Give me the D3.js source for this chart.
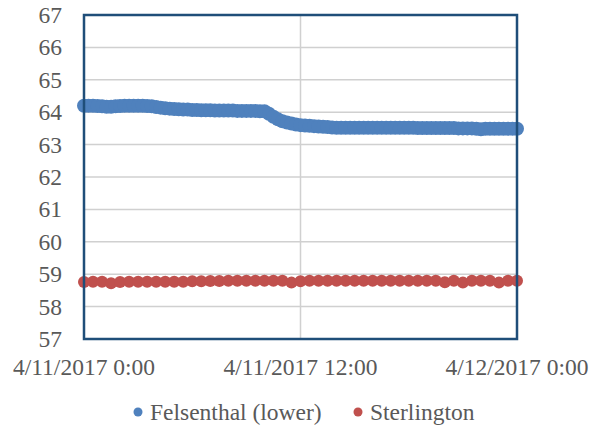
<!DOCTYPE html>
<html>
<head>
<meta charset="utf-8">
<script src="https://cdn.jsdelivr.net/npm/d3@7"></script>
</head>
<body style="margin:0">
<script>
var startTime = new Date(2017, 3, 11, 0, 0);
var endTime = new Date(2017, 3, 12, 0, 0);

// Felsenthal read every 15 minutes, Sterlington every 30 minutes
var felsenthal = [
  64.2, 64.2, 64.2, 64.19, 64.18, 64.17, 64.17, 64.18, 64.19, 64.2, 64.2, 64.2, 64.2,
  64.2, 64.19, 64.18, 64.16, 64.14, 64.12, 64.11, 64.1,
  64.09, 64.08, 64.08, 64.07, 64.07, 64.06, 64.06, 64.06, 64.05, 64.05,
  64.05, 64.05, 64.05, 64.04, 64.04, 64.04, 64.04, 64.04, 64.03, 64.03,
  63.95, 63.86, 63.78, 63.72, 63.68, 63.65, 63.62, 63.6,
  63.59, 63.58, 63.57, 63.56, 63.55, 63.54, 63.53, 63.52,
  63.52, 63.52, 63.52, 63.52, 63.52, 63.52, 63.52, 63.52, 63.52, 63.52,
  63.52, 63.52, 63.52, 63.52, 63.52, 63.52, 63.52, 63.51, 63.51, 63.51,
  63.51, 63.51, 63.51, 63.51, 63.51, 63.51, 63.5, 63.5, 63.5, 63.5,
  63.49, 63.47, 63.49, 63.49, 63.49, 63.49, 63.49, 63.49, 63.49, 63.49];

var sterlington = [58.76, 58.77, 58.77, 58.72, 58.76, 58.77, 58.77, 58.77, 58.77, 58.77,
  58.77, 58.77, 58.78, 58.78, 58.79, 58.79, 58.8, 58.8, 58.8, 58.8,
  58.8, 58.8, 58.8, 58.74, 58.78, 58.8, 58.8, 58.8, 58.8, 58.8,
  58.8, 58.8, 58.8, 58.8, 58.8, 58.8, 58.8, 58.8, 58.8, 58.8,
  58.75, 58.8, 58.74, 58.8, 58.8, 58.8, 58.74, 58.8, 58.8];
var stepMinutes = [15, 30];

var yTicks = [57, 58, 59, 60, 61, 62, 63, 64, 65, 66, 67];
var xTicks = [startTime, new Date(2017, 3, 11, 12, 0), endTime];
var xTickLabels = ["4/11/2017 0:00", "4/11/2017 12:00", "4/12/2017 0:00"];

var seriesNames = ["Felsenthal (lower)", "Sterlington"];
var colors = ["#4f81bd", "#c0504d"];

var width = 593, height = 427;
var margin = {left: 84, right: 76, top: 15, bottom: 88};

var svg = d3.select("body").append("svg")
    .attr("width", width)
    .attr("height", height);

var x = d3.scaleTime()
    .domain([startTime, endTime])
    .range([margin.left, width - margin.right]);

var y = d3.scaleLinear()
    .domain([57, 67])
    .range([height - margin.bottom, margin.top]);

function labelStyle(sel) {
  sel.attr("font-size", 23.5)
    .attr("fill", "#595959")
    .style("font-family", "'Liberation Serif'");
}

// gridlines
svg.append("g")
  .selectAll("line")
  .data(yTicks)
  .enter().append("line")
    .attr("x1", margin.left)
    .attr("x2", width - margin.right)
    .attr("y1", function(d) { return y(d); })
    .attr("y2", function(d) { return y(d); })
    .attr("stroke", "#d0d0d0")
    .attr("stroke-width", 1.5);

svg.append("line")
    .attr("x1", x(xTicks[1]))
    .attr("x2", x(xTicks[1]))
    .attr("y1", y(57))
    .attr("y2", y(67))
    .attr("stroke", "#d0d0d0")
    .attr("stroke-width", 1.5);

// y labels
svg.append("g")
  .selectAll("text")
  .data(yTicks)
  .enter().append("text")
    .attr("x", 62)
    .attr("y", function(d) { return y(d) + 8; })
    .attr("text-anchor", "end")
    .call(labelStyle)
    .text(function(d) { return d; });

// x labels
svg.append("g")
  .selectAll("text")
  .data(xTicks)
  .enter().append("text")
    .attr("x", function(d) { return x(d); })
    .attr("y", 375)
    .attr("text-anchor", "middle")
    .call(labelStyle)
    .text(function(d, i) { return xTickLabels[i]; });

// points
var allSeries = [felsenthal, sterlington];
var radii = [7, 6];
allSeries.forEach(function(values, s) {
  svg.append("g")
    .selectAll("circle")
    .data(values)
    .enter().append("circle")
      .attr("cx", function(d, i) { return x(d3.timeMinute.offset(startTime, i * stepMinutes[s])); })
      .attr("cy", function(d) { return y(d); })
      .attr("r", radii[s])
      .attr("fill", colors[s]);
});

// plot frame
svg.append("rect")
    .attr("x", margin.left)
    .attr("y", margin.top)
    .attr("width", width - margin.left - margin.right)
    .attr("height", height - margin.top - margin.bottom)
    .attr("fill", "none")
    .attr("stroke", "#1f4e79")
    .attr("stroke-width", 2.5);

// legend
var legendX = [138, 358];
var legend = svg.append("g")
  .selectAll("g")
  .data(seriesNames)
  .enter().append("g");

legend.append("circle")
    .attr("cx", function(d, i) { return legendX[i]; })
    .attr("cy", 412)
    .attr("r", 4.5)
    .attr("fill", function(d, i) { return colors[i]; });

legend.append("text")
    .attr("x", function(d, i) { return legendX[i] + 12; })
    .attr("y", 420)
    .call(labelStyle)
    .text(function(d) { return d; });
</script>
</body>
</html>
